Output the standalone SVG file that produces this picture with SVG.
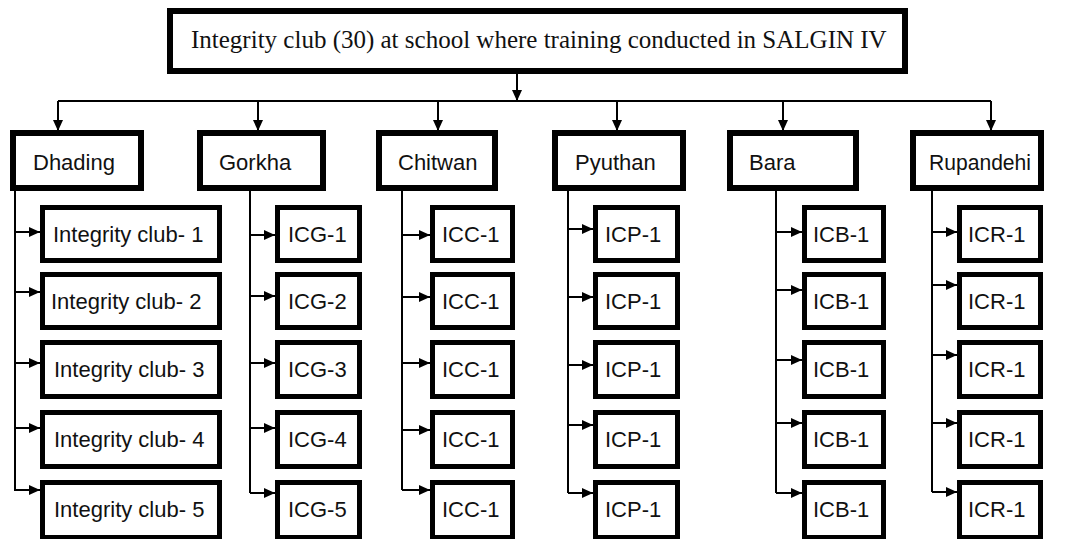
<svg xmlns="http://www.w3.org/2000/svg" width="1067" height="539" viewBox="0 0 1067 539">
<style>
.bg{fill:#ffffff}
.top{fill:#fff;stroke:#000;stroke-width:6}
.l2{fill:#fff;stroke:#000;stroke-width:6}
.l3{fill:#fff;stroke:#000;stroke-width:5}
.ttl{font-family:"Liberation Serif","Times New Roman",serif;font-size:25px;fill:#111}
.lbl{font-family:"Liberation Sans",Arial,sans-serif;font-size:22px;fill:#111}
.ln{fill:none;stroke:#000;stroke-width:2}
.ar{fill:none;stroke:#000;stroke-width:2;marker-end:url(#ah)}
</style>
<defs>
<marker id="ah" markerUnits="userSpaceOnUse" markerWidth="12" markerHeight="11" refX="11" refY="5" orient="auto">
<path d="M0,0 L11,5 L0,10 z" fill="#000"/>
</marker>
</defs>
<rect class="bg" x="0" y="0" width="1067" height="539"/>

<g id="connectors">
<line class="ar" x1="517" y1="73" x2="517" y2="101"/>
<line class="ln" x1="58" y1="101" x2="991" y2="101"/>
<line class="ar" x1="58" y1="101" x2="58" y2="131"/>
<line class="ar" x1="258" y1="101" x2="258" y2="131"/>
<line class="ar" x1="438" y1="101" x2="438" y2="131"/>
<line class="ar" x1="617" y1="101" x2="617" y2="131"/>
<line class="ar" x1="783" y1="101" x2="783" y2="131"/>
<line class="ar" x1="991" y1="101" x2="991" y2="131"/>

<line class="ln" x1="15" y1="190" x2="15" y2="491"/>
<line class="ar" x1="15" y1="232" x2="40" y2="232"/>
<line class="ar" x1="15" y1="292" x2="40" y2="292"/>
<line class="ar" x1="15" y1="363" x2="40" y2="363"/>
<line class="ar" x1="15" y1="428" x2="40" y2="428"/>
<line class="ar" x1="15" y1="490" x2="40" y2="490"/>

<line class="ln" x1="250" y1="190" x2="250" y2="493"/>
<line class="ar" x1="250" y1="235" x2="275" y2="235"/>
<line class="ar" x1="250" y1="296" x2="275" y2="296"/>
<line class="ar" x1="250" y1="363" x2="275" y2="363"/>
<line class="ar" x1="250" y1="428" x2="275" y2="428"/>
<line class="ar" x1="250" y1="493" x2="275" y2="493"/>

<line class="ln" x1="402" y1="190" x2="402" y2="490"/>
<line class="ar" x1="402" y1="235" x2="430" y2="235"/>
<line class="ar" x1="402" y1="297" x2="430" y2="297"/>
<line class="ar" x1="402" y1="363" x2="430" y2="363"/>
<line class="ar" x1="402" y1="430" x2="430" y2="430"/>
<line class="ar" x1="402" y1="490" x2="430" y2="490"/>

<line class="ln" x1="568" y1="190" x2="568" y2="493"/>
<line class="ar" x1="568" y1="229" x2="593" y2="229"/>
<line class="ar" x1="568" y1="297" x2="593" y2="297"/>
<line class="ar" x1="568" y1="365" x2="593" y2="365"/>
<line class="ar" x1="568" y1="425" x2="593" y2="425"/>
<line class="ar" x1="568" y1="493" x2="593" y2="493"/>

<line class="ln" x1="776" y1="190" x2="776" y2="493"/>
<line class="ar" x1="776" y1="232" x2="802" y2="232"/>
<line class="ar" x1="776" y1="290" x2="802" y2="290"/>
<line class="ar" x1="776" y1="360" x2="802" y2="360"/>
<line class="ar" x1="776" y1="423" x2="802" y2="423"/>
<line class="ar" x1="776" y1="493" x2="802" y2="493"/>

<line class="ln" x1="932" y1="190" x2="932" y2="492"/>
<line class="ar" x1="932" y1="232" x2="957" y2="232"/>
<line class="ar" x1="932" y1="285" x2="957" y2="285"/>
<line class="ar" x1="932" y1="355" x2="957" y2="355"/>
<line class="ar" x1="932" y1="423" x2="957" y2="423"/>
<line class="ar" x1="932" y1="492" x2="957" y2="492"/>
</g>

<g id="root">
<rect class="top" x="170" y="11" width="735" height="60"/>
<text class="ttl" x="191" y="48">Integrity club (30) at school where training conducted in SALGIN IV</text>
</g>

<g id="dhading"><rect class="l2" x="13" y="133" width="128" height="55"/><text class="lbl" x="33" y="170">Dhading</text></g>
<g id="gorkha"><rect class="l2" x="200" y="133" width="123" height="55"/><text class="lbl" x="219" y="170">Gorkha</text></g>
<g id="chitwan"><rect class="l2" x="379" y="133" width="116" height="55"/><text class="lbl" x="398" y="170">Chitwan</text></g>
<g id="pyuthan"><rect class="l2" x="555" y="133" width="128" height="55"/><text class="lbl" x="575" y="170">Pyuthan</text></g>
<g id="bara"><rect class="l2" x="730" y="133" width="126" height="55"/><text class="lbl" x="749" y="170">Bara</text></g>
<g id="rupandehi"><rect class="l2" x="913" y="133" width="128" height="55"/><text class="lbl" x="929" y="170" textLength="102" lengthAdjust="spacingAndGlyphs">Rupandehi</text></g>

<g id="dh1"><rect class="l3" x="42.5" y="207.5" width="177" height="53"/><text class="lbl" x="53" y="242">Integrity club- 1</text></g>
<g id="dh2"><rect class="l3" x="42.5" y="274.5" width="177" height="53"/><text class="lbl" x="51" y="309">Integrity club- 2</text></g>
<g id="dh3"><rect class="l3" x="42.5" y="342.5" width="177" height="54"/><text class="lbl" x="54" y="377">Integrity club- 3</text></g>
<g id="dh4"><rect class="l3" x="42.5" y="412.5" width="177" height="54"/><text class="lbl" x="54" y="447">Integrity club- 4</text></g>
<g id="dh5"><rect class="l3" x="42.5" y="482.5" width="177" height="55"/><text class="lbl" x="54" y="517">Integrity club- 5</text></g>

<g id="go1"><rect class="l3" x="277.5" y="207.5" width="82" height="53"/><text class="lbl" x="288" y="242">ICG-1</text></g>
<g id="go2"><rect class="l3" x="277.5" y="274.5" width="82" height="53"/><text class="lbl" x="288" y="309">ICG-2</text></g>
<g id="go3"><rect class="l3" x="277.5" y="342.5" width="82" height="54"/><text class="lbl" x="288" y="377">ICG-3</text></g>
<g id="go4"><rect class="l3" x="277.5" y="412.5" width="82" height="54"/><text class="lbl" x="288" y="447">ICG-4</text></g>
<g id="go5"><rect class="l3" x="277.5" y="482.5" width="82" height="55"/><text class="lbl" x="288" y="517">ICG-5</text></g>

<g id="ch1"><rect class="l3" x="432.5" y="207.5" width="80" height="53"/><text class="lbl" x="442" y="242">ICC-1</text></g>
<g id="ch2"><rect class="l3" x="432.5" y="274.5" width="80" height="53"/><text class="lbl" x="442" y="309">ICC-1</text></g>
<g id="ch3"><rect class="l3" x="432.5" y="342.5" width="80" height="54"/><text class="lbl" x="442" y="377">ICC-1</text></g>
<g id="ch4"><rect class="l3" x="432.5" y="412.5" width="80" height="54"/><text class="lbl" x="442" y="447">ICC-1</text></g>
<g id="ch5"><rect class="l3" x="432.5" y="482.5" width="80" height="55"/><text class="lbl" x="442" y="517">ICC-1</text></g>

<g id="py1"><rect class="l3" x="595.5" y="207.5" width="82" height="53"/><text class="lbl" x="605" y="242">ICP-1</text></g>
<g id="py2"><rect class="l3" x="595.5" y="274.5" width="82" height="53"/><text class="lbl" x="605" y="309">ICP-1</text></g>
<g id="py3"><rect class="l3" x="595.5" y="342.5" width="82" height="54"/><text class="lbl" x="605" y="377">ICP-1</text></g>
<g id="py4"><rect class="l3" x="595.5" y="412.5" width="82" height="54"/><text class="lbl" x="605" y="447">ICP-1</text></g>
<g id="py5"><rect class="l3" x="595.5" y="482.5" width="82" height="55"/><text class="lbl" x="605" y="517">ICP-1</text></g>

<g id="ba1"><rect class="l3" x="804.5" y="207.5" width="79" height="53"/><text class="lbl" x="813" y="242">ICB-1</text></g>
<g id="ba2"><rect class="l3" x="804.5" y="274.5" width="79" height="53"/><text class="lbl" x="813" y="309">ICB-1</text></g>
<g id="ba3"><rect class="l3" x="804.5" y="342.5" width="79" height="54"/><text class="lbl" x="813" y="377">ICB-1</text></g>
<g id="ba4"><rect class="l3" x="804.5" y="412.5" width="79" height="54"/><text class="lbl" x="813" y="447">ICB-1</text></g>
<g id="ba5"><rect class="l3" x="804.5" y="482.5" width="79" height="55"/><text class="lbl" x="813" y="517">ICB-1</text></g>

<g id="ru1"><rect class="l3" x="959.5" y="207.5" width="81" height="53"/><text class="lbl" x="968" y="242">ICR-1</text></g>
<g id="ru2"><rect class="l3" x="959.5" y="274.5" width="81" height="53"/><text class="lbl" x="968" y="309">ICR-1</text></g>
<g id="ru3"><rect class="l3" x="959.5" y="342.5" width="81" height="54"/><text class="lbl" x="968" y="377">ICR-1</text></g>
<g id="ru4"><rect class="l3" x="959.5" y="412.5" width="81" height="54"/><text class="lbl" x="968" y="447">ICR-1</text></g>
<g id="ru5"><rect class="l3" x="959.5" y="482.5" width="81" height="55"/><text class="lbl" x="968" y="517">ICR-1</text></g>
</svg>
